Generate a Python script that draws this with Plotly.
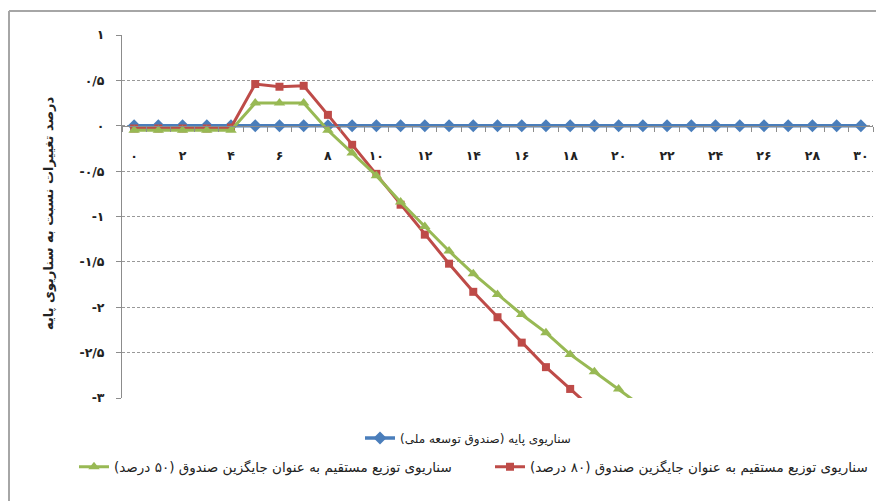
import plotly.graph_objects as go

# ---- data ----
x_vals = list(range(31))
x_tick_vals = [0, 2, 4, 6, 8, 10, 12, 14, 16, 18, 20, 22, 24, 26, 28, 30]
x_tick_text = ["۰", "۲", "۴", "۶", "۸", "۱۰", "۱۲", "۱۴", "۱۶", "۱۸", "۲۰", "۲۲", "۲۴", "۲۶", "۲۸", "۳۰"]
y_tick_vals = [1, 0.5, 0, -0.5, -1, -1.5, -2, -2.5, -3]
y_tick_text = ["۱", "۰/۵", "۰", "-۰/۵", "-۱", "-۱/۵", "-۲", "-۲/۵", "-۳"]

base_name = "سناریوی پایه (صندوق توسعه ملی)"
red_name = "سناریوی توزیع مستقیم به عنوان جایگزین صندوق (۸۰ درصد)"
green_name = "سناریوی توزیع مستقیم به عنوان جایگزین صندوق (۵۰ درصد)"
y_title = "درصد تغییرات نسبت به سناریوی پایه"

base_vals = [0, 0, 0, 0, 0, 0, 0, 0, 0, 0, 0, 0, 0, 0, 0, 0,
             0, 0, 0, 0, 0, 0, 0, 0, 0, 0, 0, 0, 0, 0, 0]
red_vals = [-0.03, -0.03, -0.03, -0.03, -0.02, 0.46, 0.43, 0.44, 0.12, -0.21,
            -0.53, -0.87, -1.20, -1.52, -1.83, -2.11, -2.39, -2.66, -2.90, -3.14]
green_vals = [-0.05, -0.05, -0.05, -0.05, -0.05, 0.25, 0.25, 0.25, -0.05, -0.30,
              -0.55, -0.84, -1.11, -1.38, -1.63, -1.86, -2.08, -2.28, -2.52, -2.71,
              -2.90, -3.10]

BLUE = "#4A7EBB"
RED = "#BE4B48"
GREEN = "#98B954"
FONT = "DejaVu Sans"
RLM = "\u200f"

fig = go.Figure()
fig.add_trace(go.Scatter(
    x=x_vals, y=base_vals, mode="lines+markers", name=base_name + RLM,
    line=dict(color=BLUE, width=3.5), marker=dict(symbol="diamond", size=10, color=BLUE),
    legend="legend"))
fig.add_trace(go.Scatter(
    x=x_vals[:len(red_vals)], y=red_vals, mode="lines+markers", name=red_name + RLM,
    line=dict(color=RED, width=3), marker=dict(symbol="square", size=8, color=RED),
    legend="legend3"))
fig.add_trace(go.Scatter(
    x=x_vals[:len(green_vals)], y=green_vals, mode="lines+markers", name=green_name + RLM,
    line=dict(color=GREEN, width=3), marker=dict(symbol="triangle-up", size=10, color=GREEN),
    legend="legend2"))

# page has an 8px body margin; figure coordinates are page coordinates minus 8
OFF = 8
W, H = 884 - OFF, 501 - OFF
L, R, T, B = 122 - OFF, 11, 35 - OFF, 103
pw, ph = W - L - R, H - T - B


def px_x(p):
    return (p - OFF - L) / pw


def px_y(p):
    return (H - B - (p - OFF)) / ph


fig.update_layout(
    width=W, height=H,
    margin=dict(l=L, r=R, t=T, b=B),
    paper_bgcolor="white", plot_bgcolor="white",
    font=dict(family=FONT, size=12, color="#222"),
    xaxis=dict(
        range=[-0.5, 30.5], anchor="free", position=0.75,
        showgrid=False, zeroline=False, showline=True, linecolor="#8c8c8c", linewidth=1,
        tickvals=x_tick_vals, ticktext=x_tick_text, ticks="",
        tickfont=dict(family=FONT, size=12.5, color="#222", weight="bold"),
        ticklabelstandoff=18,
        minor=dict(ticks="outside", tickvals=[v + 0.5 for v in x_vals[:-1]] + [-0.5, 30.5],
                   ticklen=5, tickcolor="#8c8c8c", showgrid=False),
    ),
    yaxis=dict(
        range=[-3, 1], showgrid=True, gridcolor="#999999", griddash="3px,2px", gridwidth=1,
        zeroline=False, showline=True, linecolor="#8c8c8c", linewidth=1,
        ticks="outside", ticklen=5, tickcolor="#8c8c8c",
        tickvals=y_tick_vals, ticktext=y_tick_text,
        tickfont=dict(family=FONT, size=12.5, color="#222", weight="bold"),
        ticklabelstandoff=9,
    ),
    legend=dict(x=px_x(360), y=px_y(438), xanchor="left", yanchor="middle",
                bgcolor="rgba(0,0,0,0)", font=dict(family=FONT, size=12, color="#222")),
    legend2=dict(x=px_x(74), y=px_y(467), xanchor="left", yanchor="middle",
                 bgcolor="rgba(0,0,0,0)", font=dict(family=FONT, size=13.5, color="#222")),
    legend3=dict(x=px_x(490), y=px_y(467), xanchor="left", yanchor="middle",
                 bgcolor="rgba(0,0,0,0)", font=dict(family=FONT, size=13.5, color="#222")),
    showlegend=True,
)

fig.add_annotation(
    text="<b>" + y_title + RLM + "</b>", textangle=-90, xref="paper", yref="paper",
    x=px_x(48), y=px_y(214), xanchor="center", yanchor="middle", showarrow=False,
    font=dict(family=FONT, size=13, color="#222"))

# chart border (top and left visible)
fig.add_shape(type="line", xref="paper", yref="paper",
              x0=px_x(9), x1=px_x(900), y0=px_y(11), y1=px_y(11),
              line=dict(color="#a6a6a6", width=2), layer="above")
fig.add_shape(type="line", xref="paper", yref="paper",
              x0=px_x(9), x1=px_x(9), y0=px_y(11), y1=px_y(520),
              line=dict(color="#a6a6a6", width=2), layer="above")

fig.write_html("out.html")
